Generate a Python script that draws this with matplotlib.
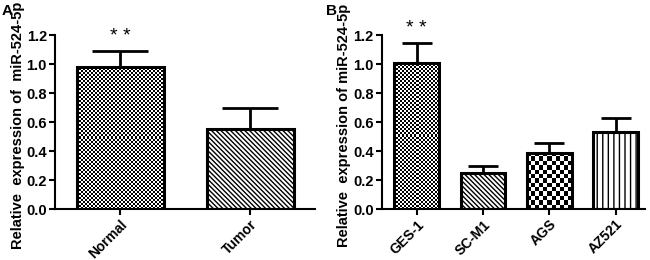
import matplotlib
matplotlib.use('Agg')
import matplotlib.pyplot as plt
import numpy as np

plt.rcParams['font.family'] = ['Liberation Sans', 'DejaVu Sans']
plt.rcParams['font.weight'] = 'bold'
plt.rcParams['hatch.linewidth'] = 1.0

# panel A
a_groups = ['Normal', 'Tumor']
a_means = [0.98, 0.55]
a_err = [0.11, 0.15]

# panel B
b_groups = ['GES-1', 'SC-M1', 'AGS', 'AZ521']
b_means = [1.01, 0.25, 0.39, 0.53]
b_err = [0.135, 0.045, 0.065, 0.095]

ylabel_a = 'Relative  expression of  miR-524-5p'
ylabel_b = 'Relative  expression of miR-524-5p'


def checker(ax, bar, cell):
    # fill a bar with a black/white checkerboard, clipped to the bar
    x0 = bar.get_x()
    x1 = x0 + bar.get_width()
    h = bar.get_height()
    p0 = ax.transData.transform((x0, 0))
    p1 = ax.transData.transform((x1, h))
    nx = max(1, int(round((p1[0] - p0[0]) / cell)))
    ny = max(1, int(round((p1[1] - p0[1]) / cell)))
    img = (np.add.outer(np.arange(ny), np.arange(nx)) % 2).astype(float)
    im = ax.imshow(img, extent=(x0, x1, 0, h), aspect='auto', cmap='gray',
                   interpolation='nearest', zorder=1.5)
    im.set_clip_path(bar)
    bar.set_facecolor('none')


def panel(ax, groups, means, err, ylabel, xlim, capsize, fills, labx):
    x = np.arange(len(groups))
    ax.set_xlim(*xlim)
    ax.set_ylim(0, 1.2)
    ax.errorbar(x, means, yerr=[np.zeros(len(err)), err], fmt='none',
                ecolor='black', elinewidth=2, capsize=capsize, capthick=2,
                zorder=1)
    bars = ax.bar(x, means, width=0.67, color='white', edgecolor='black',
                  linewidth=2.2, zorder=2)
    fig.canvas.draw()
    for b, f in zip(bars, fills):
        if f[0] == 'check':
            checker(ax, b, f[1])
        else:
            b.set_hatch(f[1])
    ax.set_xlim(*xlim)
    ax.set_ylim(0, 1.2)
    ax.set_yticks(np.arange(0, 1.21, 0.2))
    ax.set_yticklabels(['%.1f' % v for v in np.arange(0, 1.21, 0.2)],
                       fontsize=10.5, fontweight='bold')
    ax.set_xticks(x)
    ax.set_xticklabels(groups, rotation=45, ha='right', rotation_mode='anchor',
                       fontsize=10, fontweight='bold')
    ax.spines['top'].set_visible(False)
    ax.spines['right'].set_visible(False)
    ax.spines['left'].set_linewidth(1.5)
    ax.spines['bottom'].set_linewidth(1.5)
    ax.tick_params(width=1.5, length=4, pad=2)
    ax.set_ylabel(ylabel, fontsize=10.5, fontweight='bold')
    ax.yaxis.set_label_coords(labx, 0.48)
    ax.text(0, means[0] + err[0] + 0.04, '* *', ha='center', va='bottom',
            fontsize=14, fontweight='normal')


fig = plt.figure(figsize=(6.5, 2.6), dpi=100)
axA = fig.add_axes([0.085, 0.196, 0.40, 0.669])
axB = fig.add_axes([0.588, 0.196, 0.405, 0.669])

panel(axA, a_groups, a_means, a_err, ylabel_a, (-0.5, 1.5), 20,
      [('check', 2), ('hatch', '\\' * 7)], -0.115)
panel(axB, b_groups, b_means, b_err, ylabel_b, (-0.52, 3.45), 10.5,
      [('check', 2), ('hatch', '\\' * 7), ('check', 4.2), ('hatch', '|||')],
      -0.12)

fig.text(0.002, 0.985, 'A', fontsize=11, fontweight='bold', va='top')
fig.text(0.502, 0.985, 'B', fontsize=11, fontweight='bold', va='top')

plt.savefig('out.png', dpi=100)
